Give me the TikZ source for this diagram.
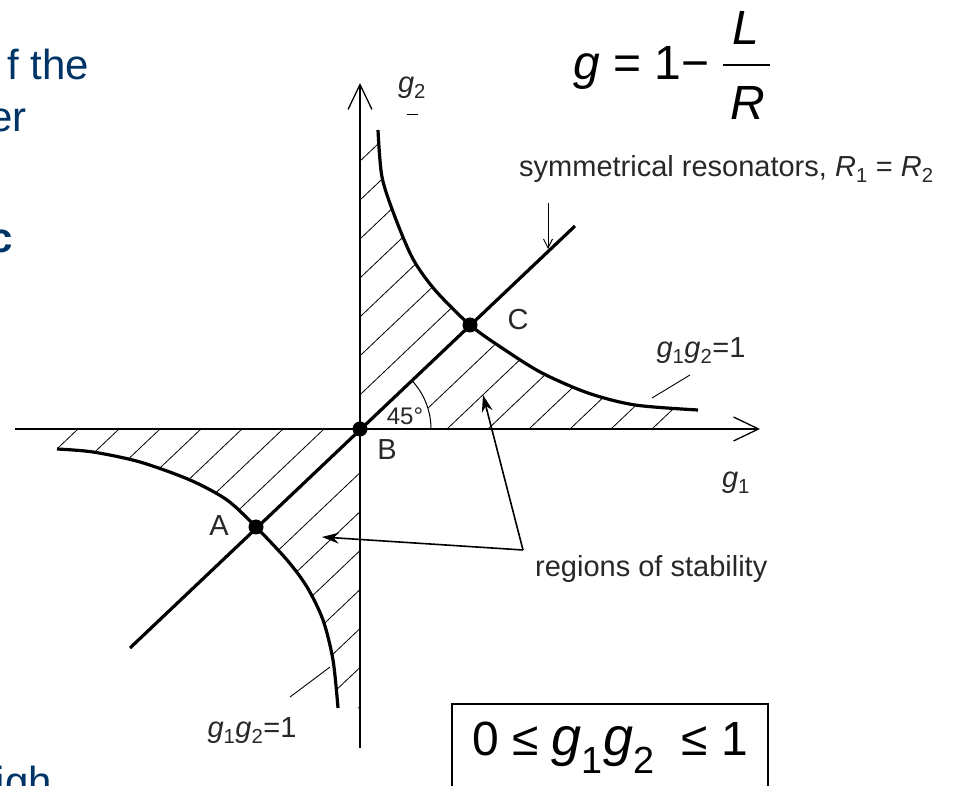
\documentclass[tikz,border=0pt]{standalone}
\usepackage{fontspec}
\setmainfont{Liberation Sans}
\usetikzlibrary{arrows.meta, positioning, calc}
\definecolor{slideblue}{RGB}{0,51,102}
\definecolor{labelgray}{RGB}{40,40,40}
\tikzset{
  lbl/.style={font=\fontsize{29}{34}\selectfont, text=labelgray, inner sep=0pt},
  axis/.style={line width=1.3pt, -{Straight Barb[length=25pt,width=24pt]}},
  branch/.style={line width=3.2pt},
  hatch/.style={line width=0.8pt},
  dot/.style={circle, fill, inner sep=0pt, minimum size=15pt},
  pointer/.style={line width=1.6pt, -{Stealth[length=17pt,width=11pt]}},
  leader/.style={line width=0.9pt},
  slidetext/.style={font=\fontsize{42}{50}\selectfont, text=slideblue, inner sep=0pt},
  bigmath/.style={font=\fontsize{48}{56}\selectfont, inner sep=0pt},
}

\begin{document}
\begin{tikzpicture}[x=1pt,y=1pt]
\useasboundingbox (0,0) rectangle (972,785);

% slide text behind the figure
\node[slidetext, anchor=base east] (slide1) at (89,705) {f the};
\node[slidetext, anchor=base east] (slide2) at (27,653) {er};
\node[slidetext, anchor=base east, font=\fontsize{42}{50}\selectfont\bfseries] (slide3) at (13,532) {c};
\node[slidetext, anchor=base east] (slide4) at (52,-11) {igh};

% hatching, upper region
\begin{scope}
\clip (360,356) -- (360,655) -- plot[smooth] coordinates {(378,655) (382,608) (395,568) (413,526) (435,495) (470,460) (505,435) (542,412) (588,392) (635,380) (698,375)} -- (698,356) -- cycle;
\foreach \k in {-8,...,-1,1,2,...,7} {
  \pgfmathsetmacro\xo{365+41*\k}
  \draw[hatch] ({\xo-420},-43) -- ({\xo+420},755);
}
\end{scope}
% hatching, lower region
\begin{scope}
\clip (360,356) -- (360,77) -- plot[smooth] coordinates {(338,77) (333,125) (323,165) (307,198) (287,225) (256,258) (227,285) (190,305) (140,323) (93,333) (57,336)} -- (57,356) -- cycle;
\foreach \k in {-8,...,-1,1,2,...,7} {
  \pgfmathsetmacro\xo{365+41*\k}
  \draw[hatch] ({\xo-420},-43) -- ({\xo+420},755);
}
\end{scope}
\fill[white] (360,356) -- (431,356) arc[start angle=0, end angle=43.5, radius=71] -- cycle;

% axes
\coordinate (g1lo) at (15,356);
\coordinate (g1hi) at (760,356);
\coordinate (g2lo) at (360,37);
\coordinate (g2hi) at (360,702);
\draw[axis] (g1lo) -- (g1hi);
\draw[axis] (g2lo) -- (g2hi);

% branches g1 g2 = 1
\draw[branch] plot[smooth] coordinates {(378,655) (382,608) (395,568) (413,526) (435,495) (470,460) (505,435) (542,412) (588,392) (635,380) (698,375)};
\draw[branch] plot[smooth] coordinates {(338,77) (333,125) (323,165) (307,198) (287,225) (256,258) (227,285) (190,305) (140,323) (93,333) (57,336)};

% symmetrical line
\coordinate (diaglo) at (130,137);
\coordinate (diaghi) at (575,559);
\draw[branch] (diaglo) -- (diaghi);
\draw[line width=1pt] (431,356) arc[start angle=0, end angle=43.5, radius=71];

% points
\node[dot] (B) at (360,356) {};
\node[dot] (C) at (470,460) {};
\node[dot] (A) at (256,258) {};

% labels
\node[lbl] (labA) at (219,259) {A};
\node[lbl] (labB) at (387,335) {B};
\node[lbl] (labC) at (518,465) {C};
\node[lbl, font=\fontsize{24}{28}\selectfont] (lab45) at (405,369) {45°};
\node[lbl] (labg1) at (736,302) {\textit{g}\textsubscript{1}};
\node[lbl] (labg2) at (412,697) {\textit{g}\textsubscript{2}};
\draw[leader] (407,671) -- (418,671);
\node[lbl] (hypup) at (701,434) {\textit{g}\textsubscript{1}\textit{g}\textsubscript{2}=1};
\node[lbl] (hyplo) at (252,54) {\textit{g}\textsubscript{1}\textit{g}\textsubscript{2}=1};
\coordinate (hypupfoot) at (652,387);
\coordinate (hypuphead) at (690,410);
\draw[leader] (hypupfoot) -- (hypuphead);
\coordinate (hyplofoot) at (290,88);
\coordinate (hylohead) at (330,118);
\draw[leader] (hyplofoot) -- (hylohead);

\node[lbl, anchor=base west] (sym) at (519,608) {symmetrical resonators, \textit{R}\textsubscript{1} = \textit{R}\textsubscript{2}};
\coordinate (symtail) at (548,582);
\coordinate (symtip) at (548,536);
\draw[leader, -{Straight Barb[length=9pt,width=9pt]}] (symtail) -- (symtip);

\node[lbl, anchor=base west] (stab) at (535,208) {regions of stability};
\coordinate (regtail) at (523,235);
\coordinate (regup) at (483,390);
\coordinate (reglo) at (322,248);
\draw[pointer] (regtail) -- (regup);
\draw[pointer] (regtail) -- (reglo);

% g = 1 - L/R
\node[bigmath, anchor=base west] (gdef) at (573,705) {\textit{g} = 1−};
\node[bigmath, anchor=base] (fracL) at (746,740) {\textit{L}};
\node[bigmath, anchor=base] (fracR) at (748,665) {\textit{R}};
\coordinate (barl) at (723,720);
\coordinate (barr) at (770,720);
\draw[line width=2.4pt] (barl) -- (barr);

% stability condition
\node[draw, line width=1.6pt, anchor=north, minimum width=316pt, text height=40pt, text depth=40pt, inner ysep=12pt, font=\fontsize{48}{56}\selectfont] (ineq) at (610,82) {0 ≤ {\fontsize{54}{60}\selectfont\textit{g}\textsubscript{1}\textit{g}\textsubscript{2}}\ \ ≤ 1};
\end{tikzpicture}
\end{document}
